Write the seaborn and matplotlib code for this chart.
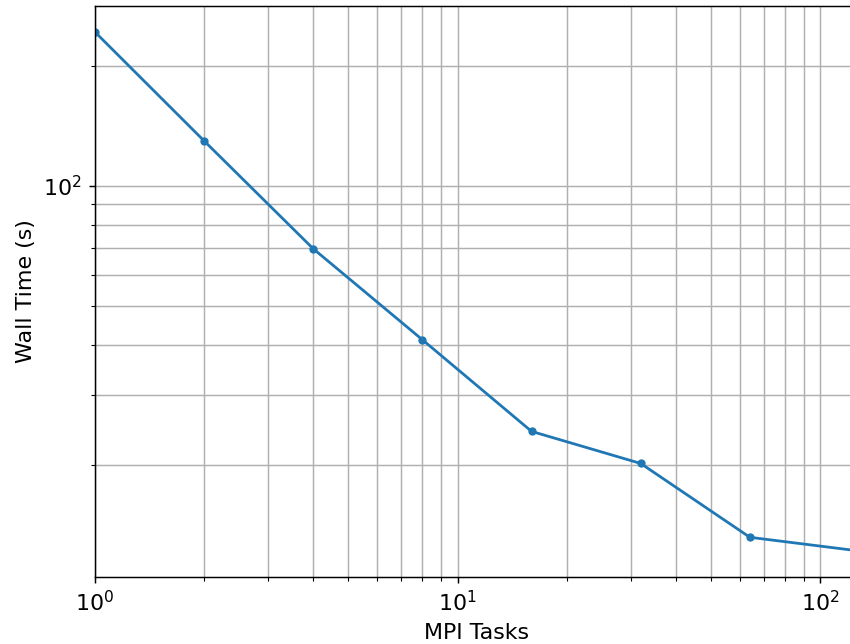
import matplotlib
matplotlib.use("Agg")
import matplotlib.pyplot as plt
import seaborn as sns
import pandas as pd

tasks = [1, 2, 4, 8, 16, 32, 64, 128]
wall_time = [242.7, 129.6, 69.6, 41.2, 24.3, 20.2, 13.2, 12.2]

df = pd.DataFrame({"MPI Tasks": tasks, "Wall Time (s)": wall_time})

plt.rcParams["font.size"] = 12
plt.rcParams["font.family"] = ["DejaVu Sans"]

dpi = 133
fig = plt.figure(figsize=(850 / dpi, 644 / dpi), dpi=dpi)
ax = fig.add_axes([95 / 850, 67 / 644, 764 / 850, 571 / 644])

sns.lineplot(data=df, x="MPI Tasks", y="Wall Time (s)", marker="o",
             markersize=4.5, markeredgewidth=0, color="#1f77b4",
             linewidth=1.5, ax=ax)
ax.set_xscale("log")
ax.set_yscale("log")
ax.set_xlim(1, 128)
ax.set_ylim(10.5, 282)
ax.grid(True, which="both", color="#b0b0b0", linewidth=0.8)
ax.set_axisbelow(True)
ax.set_xlabel("MPI Tasks", fontsize=12)
ax.set_ylabel("Wall Time (s)", fontsize=12)
ax.tick_params(labelsize=12)

fig.savefig("out.png", dpi=dpi)
